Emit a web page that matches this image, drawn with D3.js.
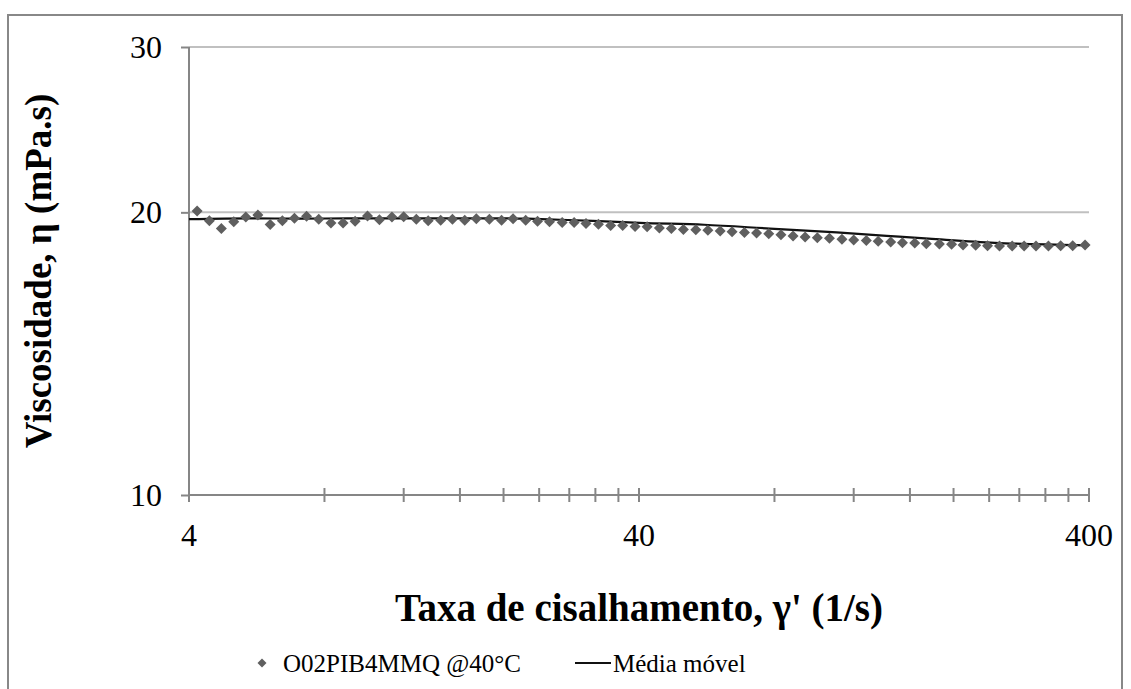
<!DOCTYPE html>
<html>
<head>
<meta charset="utf-8">
<script src="https://cdn.jsdelivr.net/npm/d3@7/dist/d3.min.js"></script>
<style>
  html, body { margin: 0; padding: 0; background: #fff; }
  svg { display: block; }
  text { font-family: "Liberation Serif", "Times New Roman", serif; fill: #000; }
</style>
</head>
<body>
<svg id="chart" width="1131" height="689"></svg>
<script>
// Shear rate (1/s) for each measured point
const shearRate = [
  4.17, 4.44, 4.72, 5.03, 5.35, 5.69, 6.06, 6.45, 6.86, 7.30,
  7.77, 8.27, 8.80, 9.36, 9.97, 10.6, 11.3, 12.0, 12.8, 13.6,
  14.5, 15.4, 16.4, 17.4, 18.6, 19.8, 21.0, 22.4, 23.8, 25.3,
  27.0, 28.7, 30.5, 32.5, 34.6, 36.8, 39.2, 41.7, 44.4, 47.2,
  50.2, 53.5, 56.9, 60.6, 64.4, 68.6, 73.0, 77.7, 82.7, 88.0,
  93.6, 99.6, 106, 113, 120, 128, 136, 145, 154, 164,
  174, 186, 198, 210, 224, 238, 253, 270, 287, 305,
  325, 346, 368, 392
];

// Measured viscosity (mPa.s), sample O02PIB4MMQ at 40 °C
const viscosity = [
  20.07, 19.59, 19.22, 19.54, 19.77, 19.87, 19.41, 19.59, 19.71, 19.81,
  19.66, 19.49, 19.49, 19.57, 19.82, 19.64, 19.77, 19.79, 19.66, 19.59,
  19.62, 19.66, 19.62, 19.69, 19.66, 19.62, 19.69, 19.62, 19.57, 19.54,
  19.51, 19.51, 19.46, 19.43, 19.37, 19.37, 19.32, 19.30, 19.25, 19.22,
  19.18, 19.17, 19.14, 19.11, 19.07, 19.04, 19.01, 18.98, 18.93, 18.87,
  18.83, 18.79, 18.77, 18.72, 18.69, 18.66, 18.63, 18.60, 18.56, 18.55,
  18.52, 18.51, 18.49, 18.46, 18.45, 18.43, 18.41, 18.41, 18.41, 18.41,
  18.41, 18.43, 18.43, 18.46
];

// Moving-average curve (shear rate, viscosity)
const avgRate = [4.0, 5.46, 7.06, 9.12, 11.8, 15.2, 19.6, 22.6, 26.7, 31.6,
                 40.2, 55.8, 78.2, 110, 142, 176, 247, 348, 400];
const avgVisc = [19.67, 19.71, 19.69, 19.71, 19.71, 19.71, 19.71, 19.69, 19.64, 19.59,
                 19.49, 19.40, 19.22, 19.04, 18.88, 18.75, 18.56, 18.47, 18.44];

// Axis ticks and labels
const xMajorTicks = [4, 40, 400];
const xMinorTicks = [8, 12, 16, 20, 24, 28, 32, 36, 80, 120, 160, 200, 240, 280, 320, 360];
const yTicks = [10, 20, 30];

const seriesName = "O02PIB4MMQ @40°C";
const avgName = "Média móvel";
const xTitle = "Taxa de cisalhamento, γ' (1/s)";
const yTitle = "Viscosidade, η (mPa.s)";

const svg = d3.select("#chart");
const W = 1131, H = 689;
const plot = { left: 189, right: 1089, top: 47, bottom: 495 };

const axisColor = "#868686";
const gridColor = "#c0c0c0";

// Outer frame
svg.append("rect")
  .attr("x", 8).attr("y", 15)
  .attr("width", 1114).attr("height", H)
  .attr("fill", "#fff")
  .attr("stroke", "#888").attr("stroke-width", 2);

const x = d3.scaleLog().domain([4, 400]).range([plot.left, plot.right]);
const y = d3.scaleLog().domain([10, 30]).range([plot.bottom, plot.top]);

// Horizontal gridlines
svg.append("g")
  .selectAll("line")
  .data(yTicks.filter(v => v > 10))
  .join("line")
  .attr("x1", plot.left).attr("x2", plot.right)
  .attr("y1", d => y(d)).attr("y2", d => y(d))
  .attr("stroke", gridColor).attr("stroke-width", 2);

// Y axis
const yAxis = d3.axisLeft(y).tickValues(yTicks).tickFormat(d3.format("d"))
  .tickSize(8).tickPadding(19);
const gy = svg.append("g").attr("transform", `translate(${plot.left},0)`).call(yAxis);
gy.select(".domain").attr("stroke", axisColor).attr("stroke-width", 2)
  .attr("d", `M0,${plot.top}V${plot.bottom}`);
gy.selectAll(".tick line").attr("stroke", axisColor).attr("stroke-width", 2);
gy.selectAll(".tick text")
  .style("font-family", "'Liberation Serif', 'Times New Roman', serif")
  .attr("font-size", 32).attr("fill", "#000");

// X axis: cross-style ticks on major and minor positions
const gx = svg.append("g").attr("transform", `translate(0,${plot.bottom})`);
gx.append("line")
  .attr("x1", plot.left).attr("x2", plot.right)
  .attr("stroke", axisColor).attr("stroke-width", 2);
gx.selectAll("line.tk")
  .data(xMajorTicks.concat(xMinorTicks))
  .join("line").attr("class", "tk")
  .attr("x1", d => x(d)).attr("x2", d => x(d))
  .attr("y1", -7).attr("y2", 7)
  .attr("stroke", axisColor).attr("stroke-width", 2);
gx.selectAll("text")
  .data(xMajorTicks)
  .join("text")
  .attr("x", d => x(d)).attr("y", 51)
  .attr("text-anchor", "middle")
  .attr("font-size", 32)
  .text(d => d);

// Moving-average line
const line = d3.line()
  .x((d, i) => x(avgRate[i]))
  .y(d => y(d))
  .curve(d3.curveMonotoneX);
svg.append("path")
  .datum(avgVisc)
  .attr("d", line)
  .attr("fill", "none")
  .attr("stroke", "#111")
  .attr("stroke-width", 2.2);

// Data points as diamonds
const diamond = r => `M0,${-r}L${r},0L0,${r}L${-r},0Z`;
svg.append("g")
  .selectAll("path")
  .data(viscosity)
  .join("path")
  .attr("transform", (d, i) => `translate(${x(shearRate[i])},${y(d)})`)
  .attr("d", diamond(5.5))
  .attr("fill", "#5f5f5f");

// Axis titles
svg.append("text")
  .attr("x", (plot.left + plot.right) / 2).attr("y", 621)
  .attr("text-anchor", "middle")
  .attr("font-size", 39).attr("font-weight", "bold")
  .text(xTitle);

svg.append("text")
  .attr("transform", `translate(51,${(plot.top + plot.bottom) / 2}) rotate(-90)`)
  .attr("text-anchor", "middle")
  .attr("font-size", 37).attr("font-weight", "bold")
  .text(yTitle);

// Legend
const lg = svg.append("g").attr("transform", "translate(0,663)");
lg.append("path")
  .attr("transform", "translate(262,0)")
  .attr("d", diamond(4.5))
  .attr("fill", "#5f5f5f");
lg.append("text")
  .attr("x", 283).attr("y", 9)
  .attr("font-size", 25)
  .text(seriesName);
lg.append("line")
  .attr("x1", 575).attr("x2", 611)
  .attr("stroke", "#111").attr("stroke-width", 2);
lg.append("text")
  .attr("x", 613).attr("y", 9)
  .attr("font-size", 25)
  .text(avgName);
</script>
</body>
</html>
